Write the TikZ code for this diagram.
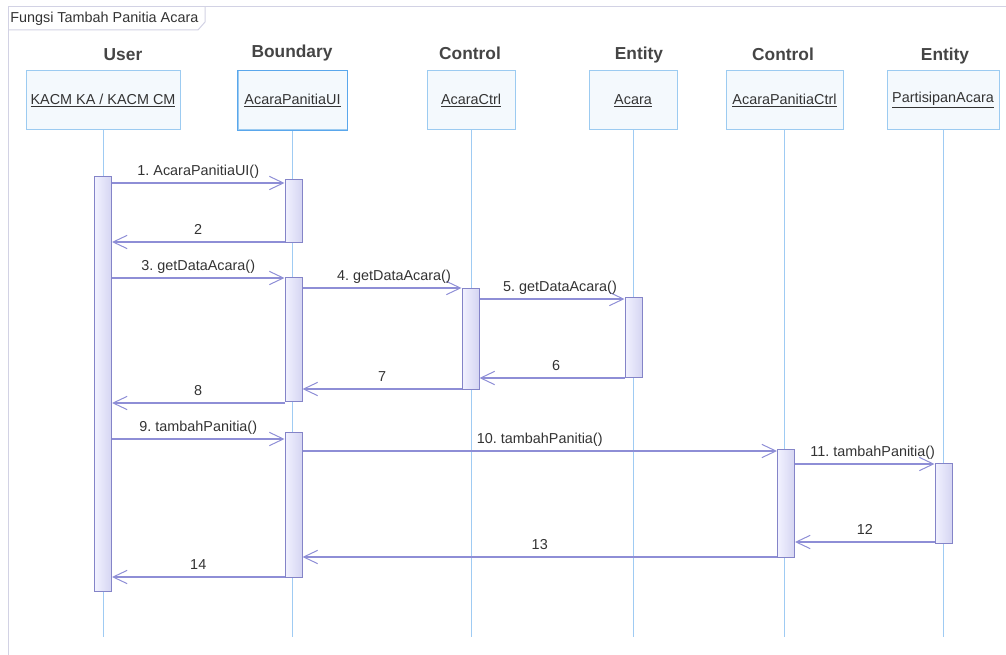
\documentclass[tikz,border=0pt]{standalone}
\usepackage{fontspec}
\setmainfont{Liberation Sans}
\frenchspacing
\usetikzlibrary{arrows.meta}
\definecolor{lifeblue}{HTML}{9FCBF3}
\definecolor{boxedge}{HTML}{9CCBF1}
\definecolor{uiedge}{HTML}{5AA7EC}
\definecolor{boxfill}{HTML}{F4F9FD}
\definecolor{msgcol}{HTML}{8E8ED6}
\definecolor{barL}{HTML}{F2F2FF}
\definecolor{barR}{HTML}{D5D5F2}
\definecolor{baredge}{HTML}{8484C8}
\definecolor{framecol}{HTML}{D2D2E4}
\definecolor{txt}{HTML}{333333}
\definecolor{headtxt}{HTML}{454545}
\tikzset{
  lifeline/.style={draw=lifeblue, line width=0.75pt},
  objbox/.style={draw=boxedge, line width=0.75pt, fill=boxfill,
    minimum height=44.25pt, inner sep=0pt, text=txt, font=\fontsize{10.8}{13}\selectfont},
  actbar/.style={draw=baredge, line width=0.75pt,
    left color=barL, right color=barR, minimum width=12.75pt, inner sep=0pt},
  msg/.style={draw=msgcol, line width=0.85pt, -{Straight Barb[length=10.5pt,width=10pt,line width=0.75pt]}},
  lbl/.style={midway, above, inner sep=2.5pt, text depth=2.8pt, text=txt, font=\fontsize{10.8}{13}\selectfont},
  headtext/.style={anchor=base, text=headtxt, font=\fontsize{13}{15}\bfseries},
}
% object box with its lifeline: name, left x, right x, label
\newcommand{\lifebox}[4]{ \node[objbox, minimum width={(#3-#2)*0.75pt}] (#1) at ({(#2+#3)/2},100.5) {\underline{#4}}; \draw[lifeline] (#1.south) -- (#1.south |- 0,637);}
% activation bar: name, x, top y, bottom y
\newcommand{\actbarat}[4]{\node[actbar, minimum height={(#4-#3)*0.75pt}] (#1) at (#2,{(#3+#4)/2}) {};}

\begin{document}
\begin{tikzpicture}[x=0.75pt, y=-0.75pt]
    \useasboundingbox (0,0) rectangle (1006,655);
    %
    \draw[framecol, line width=0.75pt] (8,655) -- (8,7) -- (1006,7);
    \draw[framecol, line width=0.75pt] (8,30) -- (198,30) -- (205,22) -- (205,7);
    \node[anchor=west, inner sep=0pt, text=txt, font=\fontsize{10.8}{13}\selectfont] (title) at (10,18.5) {Fungsi Tambah Panitia Acara};
    %
    \node[headtext] (hU) at (123,61) {User};
    \node[headtext] (hB) at (292,58) {Boundary};
    \node[headtext] (hC1) at (470,60) {Control};
    \node[headtext] (hE1) at (639,60) {Entity};
    \node[headtext] (hC2) at (783,61) {Control};
    \node[headtext] (hE2) at (945,61) {Entity};
    %
    \lifebox{user}{26}{180}{KACM KA / KACM CM}
    \lifebox{ui}{238}{347}{AcaraPanitiaUI}
    \lifebox{ctrl}{427}{515}{AcaraCtrl}
    \lifebox{acara}{589}{677}{Acara}
    \lifebox{pctrl}{726}{843}{AcaraPanitiaCtrl}
    \lifebox{part}{887}{999}{PartisipanAcara}
    \draw[draw=uiedge, line width=1.1pt] (ui.south west) rectangle (ui.north east);
    %
    \actbarat{u1}{103}{177}{591}
    \actbarat{b1}{293.5}{180}{243}
    \actbarat{b2}{293.5}{278}{402}
    \actbarat{b3}{293.5}{433}{577}
    \actbarat{c1}{470.5}{289}{390}
    \actbarat{a1}{633.5}{298}{378}
    \actbarat{p1}{786}{450}{557}
    \actbarat{s1}{943.5}{463}{543}
    %
    \draw[msg] (u1.east |- 0,183) -- node[lbl] {1. AcaraPanitiaUI()} (b1.west |- 0,183);
    \draw[msg] (b1.west |- 0,242) -- node[lbl] {2} (u1.east |- 0,242);
    \draw[msg] (u1.east |- 0,278) -- node[lbl] {3. getDataAcara()} (b2.west |- 0,278);
    \draw[msg] (b2.east |- 0,288) -- node[lbl, xshift=9pt] {4. getDataAcara()} (c1.west |- 0,288);
    \draw[msg] (c1.east |- 0,299) -- node[lbl, xshift=6pt] {5. getDataAcara()} (a1.west |- 0,299);
    \draw[msg] (a1.west |- 0,378) -- node[lbl, xshift=3pt] {6} (c1.east |- 0,378);
    \draw[msg] (c1.west |- 0,389) -- node[lbl] {7} (b2.east |- 0,389);
    \draw[msg] (b2.west |- 0,403) -- node[lbl] {8} (u1.east |- 0,403);
    \draw[msg] (u1.east |- 0,439) -- node[lbl] {9. tambahPanitia()} (b3.west |- 0,439);
    \draw[msg] (b3.east |- 0,451) -- node[lbl] {10. tambahPanitia()} (p1.west |- 0,451);
    \draw[msg] (p1.east |- 0,464) -- node[lbl, xshift=6pt] {11. tambahPanitia()} (s1.west |- 0,464);
    \draw[msg] (s1.west |- 0,542) -- node[lbl] {12} (p1.east |- 0,542);
    \draw[msg] (p1.west |- 0,557) -- node[lbl] {13} (b3.east |- 0,557);
    \draw[msg] (b3.west |- 0,577) -- node[lbl] {14} (u1.east |- 0,577);
\end{tikzpicture}
\end{document}
